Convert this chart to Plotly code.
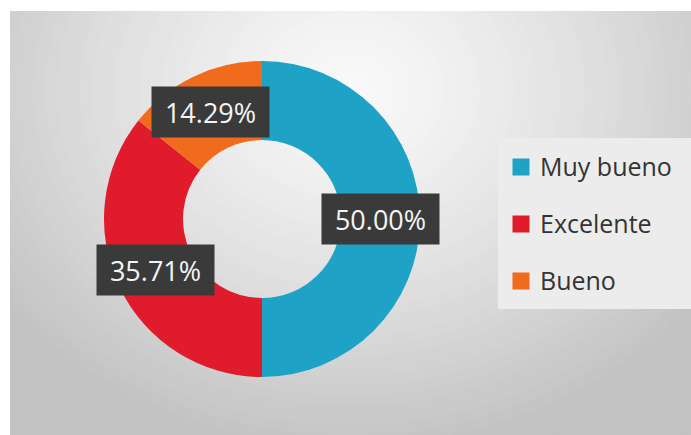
import math
import plotly.graph_objects as go

categories = ["Muy bueno", "Excelente", "Bueno"]
values = [50.00, 35.71, 14.29]
colors = ["#1ea3c6", "#e01b2b", "#f06b1b"]
label_texts = ["50.00%", "35.71%", "14.29%"]

W, H = 691, 435
CX, CY, R = 262, 219, 158   # donut centre / radius in pixels (from top-left)
HOLE = 0.5

fig = go.Figure()
fig.add_trace(go.Pie(
    labels=categories, values=values, hole=HOLE,
    sort=False, direction="clockwise", rotation=0,
    marker=dict(colors=colors, line=dict(width=0)),
    textinfo="none", showlegend=False,
    domain=dict(x=[(CX - R) / W, (CX + R) / W],
                y=[(H - CY - R) / H, (H - CY + R) / H]),
))

shapes = []
# radial grey gradient background
GCX, GCY, RX, RY = 350, 90, 440, 370
light, dark = 249, 194
N = 60
for i in range(N, 0, -1):
    k = i / N * 1.6
    t = min(1.0, k) ** 1.3
    c = int(round(light - (light - dark) * t))
    shapes.append(dict(type="circle", xref="paper", yref="paper", layer="below",
                       x0=(GCX - RX * k) / W, x1=(GCX + RX * k) / W,
                       y0=(H - GCY - RY * k) / H, y1=(H - GCY + RY * k) / H,
                       fillcolor=f"rgb({c},{c},{c})", line=dict(width=0)))
# white frame strips (top and left)
shapes.append(dict(type="rect", xref="paper", yref="paper", layer="below",
                   x0=0, x1=1, y0=(H - 11) / H, y1=1.2, fillcolor="white", line=dict(width=0)))
shapes.append(dict(type="rect", xref="paper", yref="paper", layer="below",
                   x0=-0.2, x1=10 / W, y0=-0.2, y1=1.2, fillcolor="white", line=dict(width=0)))
# legend background
shapes.append(dict(type="rect", xref="paper", yref="paper", layer="below",
                   x0=498 / W, x1=1.01, y0=(H - 309) / H, y1=(H - 138) / H,
                   fillcolor="#ececec", line=dict(width=0)))

annotations = []
# data labels at mid-angle of each slice, mid-ring radius
total = sum(values)
cum = 0.0
rmid = R * (1 + HOLE) / 2
for v, txt in zip(values, label_texts):
    mid = (cum + v / 2) / total * 2 * math.pi
    cum += v
    px = CX + rmid * math.sin(mid)
    py = CY - rmid * math.cos(mid)
    annotations.append(dict(x=px / W, y=(H - py) / H, xref="paper", yref="paper",
                            text=txt, showarrow=False,
                            font=dict(family="Open Sans", size=27, color="#f4f4f4"),
                            bgcolor="#3a3a3a", borderpad=9, width=99, height=32,
                            xanchor="center", yanchor="middle"))

# custom legend
LX, LY0, LDY, SQ = 521, 167, 57, 17
for i, (name, col) in enumerate(zip(categories, colors)):
    cy = LY0 + i * LDY
    shapes.append(dict(type="rect", xref="paper", yref="paper",
                       x0=(LX - SQ / 2) / W, x1=(LX + SQ / 2) / W,
                       y0=(H - cy - SQ / 2) / H, y1=(H - cy + SQ / 2) / H,
                       fillcolor=col, line=dict(width=0)))
    annotations.append(dict(x=538 / W, y=(H - cy + 1) / H, xref="paper", yref="paper",
                            text=name, showarrow=False, xanchor="left", yanchor="middle",
                            font=dict(family="Open Sans", size=25, color="#333333")))

fig.update_layout(width=W, height=H, margin=dict(l=0, r=0, t=0, b=0),
                  paper_bgcolor="white", plot_bgcolor="white",
                  shapes=shapes, annotations=annotations, showlegend=False)
fig.write_html("out.html", config={"displayModeBar": False},
               post_script="document.body.style.margin='0';document.body.style.overflow='hidden';")
